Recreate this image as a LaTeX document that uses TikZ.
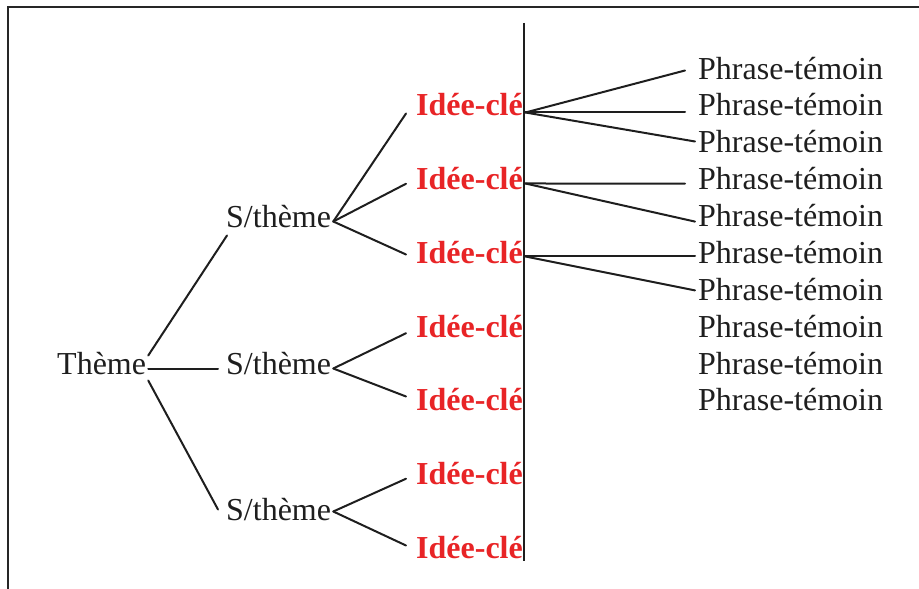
\documentclass[tikz,border=0pt]{standalone}
\usepackage{fontspec}
\setmainfont{Liberation Serif}
\definecolor{idred}{RGB}{232,36,38}
\definecolor{ink}{RGB}{30,30,30}
\begin{document}
\begin{tikzpicture}[x=1pt,y=1pt,
  lbl/.style={anchor=base west,inner sep=0pt,font=\fontsize{32}{38}\selectfont,text=ink},
  idee/.style={lbl,font=\fontsize{32}{38}\selectfont\bfseries,text=idred},
  conn/.style={draw=ink,line width=2pt,line cap=round},
  frameline/.style={draw=black!85,line width=2.2pt}]
\useasboundingbox (0,0) rectangle (919,589);
% frame (top and left edges)
\coordinate (ftr) at (919,582);
\coordinate (ftl) at (7,582);
\coordinate (fbl) at (8,0);
\draw[frameline] (ftr) -- (ftl);
\draw[frameline] (8,582) -- (fbl);
% vertical line
\coordinate (vtop) at (524,566);
\coordinate (vbot) at (524,28);
\draw[conn,line cap=butt] (vtop) -- (vbot);
% nodes
\begin{scope}[yshift=-1.5pt]
\node[lbl] (theme) at (57,216) {Thème};
\node[lbl] (s1) at (226,363) {S/thème};
\node[lbl] (s2) at (226,216) {S/thème};
\node[lbl] (s3) at (226,70) {S/thème};
\node[idee] (i1) at (416,474.5) {Idée-clé};
\node[idee] (i2) at (416,400.75) {Idée-clé};
\node[idee] (i3) at (416,327) {Idée-clé};
\node[idee] (i4) at (416,253.25) {Idée-clé};
\node[idee] (i5) at (416,179.5) {Idée-clé};
\node[idee] (i6) at (416,105.75) {Idée-clé};
\node[idee] (i7) at (416,32) {Idée-clé};
\foreach \k/\yy in {1/511.4,2/474.5,3/437.6,4/400.75,5/363.9,6/327,7/290.1,8/253.25,9/216.4,10/179.5}{
  \node[lbl] (p\k) at (698,\yy) {Phrase-témoin};
}
\end{scope}
% junction coordinates
\coordinate (tj1) at ([shift={(2,19)}]theme.base east);
\coordinate (tj2) at ([shift={(2,5.5)}]theme.base east);
\coordinate (tj3) at ([shift={(2,-6)}]theme.base east);
\coordinate (s1j) at ([shift={(2,6)}]s1.base east);
\coordinate (s2j) at ([shift={(2,6)}]s2.base east);
\coordinate (s3j) at ([shift={(2,9)}]s3.base east);
% Theme -> S/theme
\draw[conn] (tj1) -- ([shift={(1,-8)}]s1.base west);
\draw[conn] (tj2) -- ([shift={(-8,5.5)}]s2.base west);
\draw[conn] (tj3) -- ([shift={(-8,11)}]s3.base west);
% S/theme -> Idee-cle
\draw[conn] (s1j) -- ([shift={(-10,2.5)}]i1.base west);
\draw[conn] (s1j) -- ([shift={(-10,6)}]i2.base west);
\draw[conn] (s1j) -- ([shift={(-10,9)}]i3.base west);
\draw[conn] (s2j) -- ([shift={(-10,4)}]i4.base west);
\draw[conn] (s2j) -- ([shift={(-10,14.5)}]i5.base west);
\draw[conn] (s3j) -- ([shift={(-10,6)}]i6.base west);
\draw[conn] (s3j) -- ([shift={(-10,13)}]i7.base west);
% Idee-cle -> Phrase-temoin
\coordinate (i1j) at ([shift={(2.4,3.5)}]i1.base east);
\coordinate (i2j) at ([shift={(2.4,6.25)}]i2.base east);
\coordinate (i3j) at ([shift={(2.4,7)}]i3.base east);
\draw[conn] (i1j) -- ([shift={(-13,8.6)}]p1.base west);
\draw[conn] (i1j) -- ([shift={(-13,3.5)}]p2.base west);
\draw[conn] (i1j) -- ([shift={(-3,11.4)}]p3.base west);
\draw[conn] (i2j) -- ([shift={(-13,6.2)}]p4.base west);
\draw[conn] (i2j) -- ([shift={(-3,5)}]p5.base west);
\draw[conn] (i3j) -- ([shift={(-3,7)}]p6.base west);
\draw[conn] (i3j) -- ([shift={(-3,10)}]p7.base west);
\end{tikzpicture}
\end{document}
